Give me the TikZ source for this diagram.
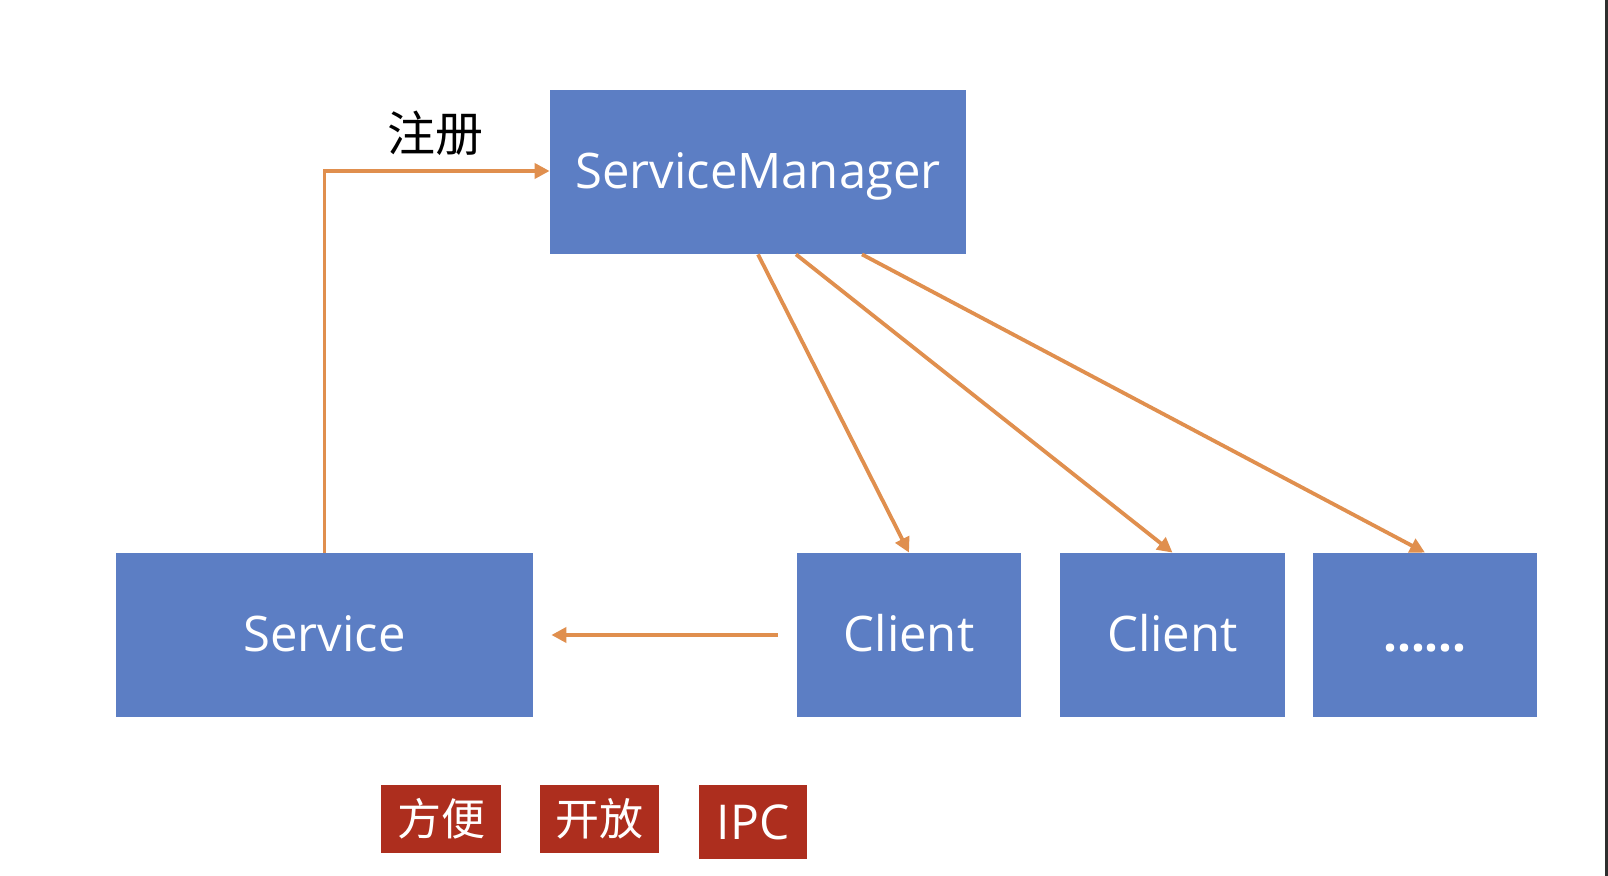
\documentclass[tikz,border=0pt]{standalone}
\usepackage{fontspec}
\setmainfont{Open Sans}
\newfontfamily\cjk{Noto Sans CJK SC}
\usetikzlibrary{arrows.meta}
\definecolor{boxblue}{HTML}{5C7EC4}
\definecolor{arrorange}{HTML}{E08F4E}
\definecolor{tagred}{HTML}{AD2E1E}
\definecolor{edgedark}{HTML}{2E2E2E}
\tikzset{
  bluebox/.style={fill=boxblue, draw=none, text=white, inner sep=0pt,
    text height=22pt, text depth=5pt,
    font=\fontsize{24.5}{28}\selectfont},
  tagbox/.style={fill=tagred, draw=none, text=white, inner sep=0pt,
    font=\fontsize{22}{26}\selectfont},
  arr/.style={draw=arrorange, line width=1.9pt, -{Triangle[length=7.5pt,width=7.5pt]}},
}
\begin{document}
\begin{tikzpicture}[x=0.5pt, y=-0.5pt]
\useasboundingbox (0,0) rectangle (1608,876);
\fill[white] (0,0) rectangle (1608,876);
\fill[edgedark] (1605,0) rectangle (1608,876);

\node[bluebox, minimum width=208pt, minimum height=82pt] (sm) at (758,172) {ServiceManager};
\node[bluebox, minimum width=208.5pt, minimum height=82pt] (svc) at (324.5,635) {Service};
\node[bluebox, minimum width=112pt, minimum height=82pt] (c1) at (909,635) {Client};
\node[bluebox, minimum width=112.5pt, minimum height=82pt] (c2) at (1172.5,635) {Client};
\node[bluebox, minimum width=112pt, minimum height=82pt] (c3) at (1425,635) {\textbf{......}};

\node[font=\cjk\fontsize{24}{28}\selectfont] (reg) at (435,133) {注册};

\node[tagbox, font=\cjk\fontsize{22}{26}\selectfont, minimum width=60pt, minimum height=34pt] (t1) at (441,819) {方便};
\node[tagbox, font=\cjk\fontsize{22}{26}\selectfont, minimum width=59.5pt, minimum height=34pt] (t2) at (599.5,819) {开放};
\node[tagbox, font=\fontsize{24}{28}\selectfont, minimum width=54pt, minimum height=37pt] (t3) at (753,822) {IPC};

\draw[arr] (svc.north) |- ([yshift=0.5pt]sm.west);
\draw[arr] ([xshift=-9.5pt]c1.west) -- ([xshift=9pt]svc.east);
\draw[arr] (sm.south) -- (c1.north);
\draw[arr] ([xshift=19pt]sm.south) -- (c2.north);
\draw[arr] ([xshift=52pt]sm.south) -- (c3.north);
\end{tikzpicture}
\end{document}
